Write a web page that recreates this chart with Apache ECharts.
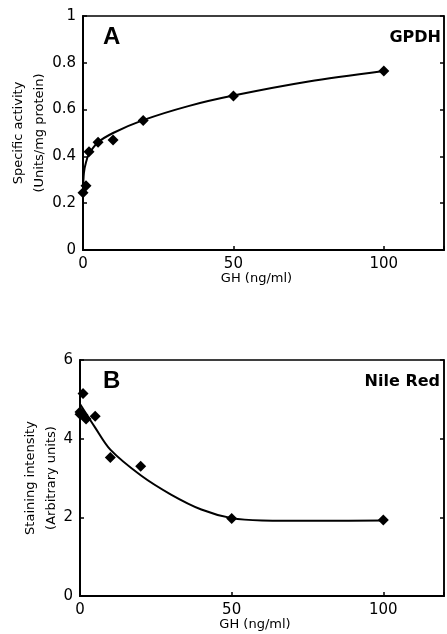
<!DOCTYPE html>
<html>
<head>
<meta charset="utf-8">
<script src="https://cdn.jsdelivr.net/npm/echarts@6/dist/echarts.min.js"></script>
<style>
  html, body { margin: 0; padding: 0; background: #fff; }
  #chart { width: 447px; height: 634px; }
</style>
</head>
<body>
<div id="chart"></div>
<script>
// panel A - GPDH
const gpdhDose = [0, 1, 2, 5, 10, 20, 50, 100];
const gpdhActivity = [0.245, 0.275, 0.42, 0.46, 0.47, 0.553, 0.658, 0.765];
const gpdhFitDose = [0, 0.3, 1, 2, 5, 10, 20, 35, 50, 75, 100];
const gpdhFitActivity = [0.25, 0.33, 0.375, 0.41, 0.46, 0.50, 0.555, 0.615, 0.66, 0.72, 0.765];

// panel B - Nile Red
const nileDose = [0, 0, 1, 1, 2, 5, 10, 20, 50, 100];
const nileStain = [4.62, 4.68, 5.15, 4.6, 4.5, 4.57, 3.52, 3.3, 1.97, 1.93];
const nileFitDose = [0, 5, 10, 20, 30, 40, 50, 60, 80, 100];
const nileFitStain = [4.88, 4.28, 3.72, 3.07, 2.58, 2.2, 1.98, 1.92, 1.91, 1.92];

const doseTicks = [0, 50, 100];

const font = 'DejaVu Sans';
const chart = echarts.init(document.getElementById('chart'));

function pairs(xs, ys) {
  return xs.map((x, i) => [x, ys[i]]);
}

function xAxisFor(gridIndex) {
  return {
    type: 'value', gridIndex: gridIndex, min: 0, max: 120, interval: 50,
    name: 'GH (ng/ml)', nameLocation: 'middle', nameGap: 22, nameMoveOverlap: false,
    nameTextStyle: { color: '#000', fontFamily: font, fontSize: 13, padding: [0, 14, 0, 0] },
    axisLine: { lineStyle: { color: '#000', width: 2 } },
    axisTick: { inside: true, length: 4, lineStyle: { color: '#000', width: 1.5 } },
    axisLabel: {
      color: '#000', fontFamily: font, fontSize: 15, margin: 7,
      formatter: v => (doseTicks.includes(v) ? String(v) : '')
    },
    splitLine: { show: false }
  };
}

function yAxisFor(gridIndex, max, interval, name, gap) {
  return {
    type: 'value', gridIndex: gridIndex, min: 0, max: max, interval: interval,
    name: name, nameLocation: 'middle', nameGap: gap, nameRotate: 90, nameMoveOverlap: false,
    nameTextStyle: { color: '#000', fontFamily: font, fontSize: 13, lineHeight: 21 },
    axisLine: { lineStyle: { color: '#000', width: 2 } },
    axisTick: { inside: true, length: 4, lineStyle: { color: '#000', width: 1.5 } },
    axisLabel: { color: '#000', fontFamily: font, fontSize: 15, margin: 7 },
    splitLine: { show: false }
  };
}

function rightAxisFor(gridIndex, max, interval) {
  return {
    type: 'value', gridIndex: gridIndex, position: 'right', min: 0, max: max, interval: interval,
    axisLine: { show: true, lineStyle: { color: '#000', width: 1.5 } },
    axisTick: { inside: true, length: 4, lineStyle: { color: '#000', width: 1.5 } },
    axisLabel: { show: false },
    splitLine: { show: false }
  };
}

const option = {
  animation: false,
  backgroundColor: '#fff',
  title: [
    { text: 'A', left: 98, top: 20, textStyle: { fontFamily: 'Liberation Sans', fontSize: 24, fontWeight: 'bold', color: '#000' } },
    { text: 'GPDH', right: 1, top: 25, textStyle: { fontFamily: font, fontSize: 16, fontWeight: 'bold', color: '#000' } },
    { text: 'B', left: 98, top: 364, textStyle: { fontFamily: 'Liberation Sans', fontSize: 24, fontWeight: 'bold', color: '#000' } },
    { text: 'Nile Red', right: 2, top: 369, textStyle: { fontFamily: font, fontSize: 16, fontWeight: 'bold', color: '#000' } }
  ],
  grid: [
    { left: 82, top: 16, width: 365, height: 234, show: true, borderColor: '#000', borderWidth: 1.5 },
    { left: 80, top: 360, width: 367, height: 236, show: true, borderColor: '#000', borderWidth: 1.5 }
  ],
  xAxis: [xAxisFor(0), xAxisFor(1)],
  yAxis: [
    yAxisFor(0, 1, 0.2, 'Specific activity\n(Units/mg protein)', 33),
    rightAxisFor(0, 1, 0.2),
    yAxisFor(1, 6, 2, 'Staining intensity\n(Arbitrary units)', 18),
    rightAxisFor(1, 6, 2)
  ],
  series: [
    {
      type: 'line', xAxisIndex: 0, yAxisIndex: 0, smooth: 0.3,
      showSymbol: false, lineStyle: { color: '#000', width: 2 },
      data: pairs(gpdhFitDose, gpdhFitActivity)
    },
    {
      type: 'scatter', xAxisIndex: 0, yAxisIndex: 0, symbol: 'diamond', symbolSize: 11,
      itemStyle: { color: '#000', opacity: 1 }, data: pairs(gpdhDose, gpdhActivity)
    },
    {
      type: 'line', xAxisIndex: 1, yAxisIndex: 2, smooth: 0.3,
      showSymbol: false, lineStyle: { color: '#000', width: 2 },
      data: pairs(nileFitDose, nileFitStain)
    },
    {
      type: 'scatter', xAxisIndex: 1, yAxisIndex: 2, symbol: 'diamond', symbolSize: 11,
      itemStyle: { color: '#000', opacity: 1 }, data: pairs(nileDose, nileStain)
    }
  ]
};

chart.setOption(option);
</script>
</body>
</html>
